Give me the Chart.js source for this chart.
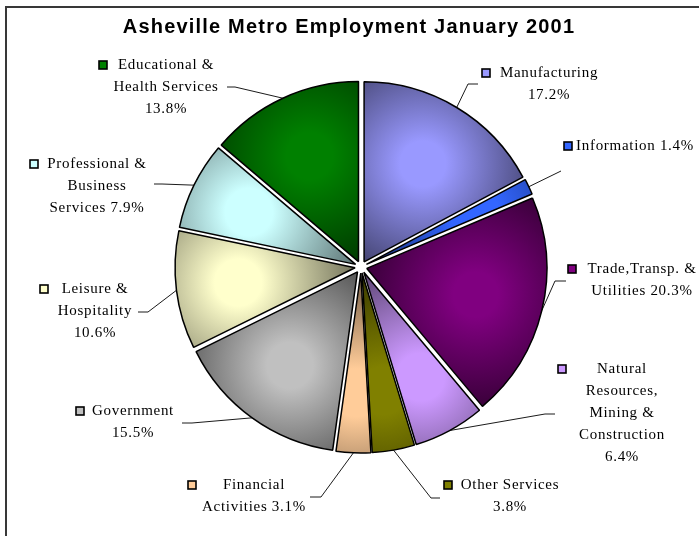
<!DOCTYPE html>
<html>
<head>
<meta charset="utf-8">
<script src="https://cdn.jsdelivr.net/npm/chart.js@4.4.1/dist/chart.umd.min.js"></script>
<style>
  html, body { margin: 0; padding: 0; background: #fff; overflow: hidden; }
  #wrap { width: 699px; height: 536px; }
</style>
</head>
<body>
<div id="wrap"><canvas id="myChart" width="699" height="536"></canvas></div>
<script>
// Employment shares by sector, clockwise from 12 o'clock
const categories = [
  "Manufacturing", "Information", "Trade,Transp. & Utilities",
  "Natural Resources, Mining & Construction", "Other Services",
  "Financial Activities", "Government", "Leisure & Hospitality",
  "Professional & Business Services", "Educational & Health Services"
];
const shares = [17.2, 1.4, 20.3, 6.4, 3.8, 3.1, 15.5, 10.6, 7.9, 13.8];
const sliceColors = [
  "#9999FF", "#3366FF", "#800080", "#CC99FF", "#808000",
  "#FFCC99", "#C0C0C0", "#FFFFCC", "#CCFFFF", "#008000"
];
// how each category name wraps in its label
const labelLines = [
  ["Manufacturing"],
  ["Information"],
  ["Trade,Transp. &", "Utilities"],
  ["Natural", "Resources,", "Mining &", "Construction"],
  ["Other Services"],
  ["Financial", "Activities"],
  ["Government"],
  ["Leisure &", "Hospitality"],
  ["Professional &", "Business", "Services"],
  ["Educational &", "Health Services"]
];

const pieRadius = 180;
const explode = 6;
const lineGap = 22;

// label block placement: centre x, first line y, key x, leader elbow and end
const labelLayout = [
  { x: 549, y: 73,  mx: 486, elbow: [468, 84],  end: [478, 84],  inline: false },
  { x: 635, y: 146, mx: 568, elbow: [561, 171], end: [561, 171], inline: true },
  { x: 642, y: 269, mx: 572, elbow: [555, 281], end: [566, 281], inline: true },
  { x: 622, y: 369, mx: 562, elbow: [545, 414], end: [555, 414], inline: false },
  { x: 510, y: 485, mx: 448, elbow: [431, 498], end: [440, 498], inline: false },
  { x: 254, y: 485, mx: 192, elbow: [321, 497], end: [310, 497], inline: true },
  { x: 133, y: 411, mx: 80,  elbow: [192, 423], end: [182, 423], inline: false },
  { x: 95,  y: 289, mx: 44,  elbow: [148, 312], end: [138, 312], inline: false },
  { x: 97,  y: 164, mx: 34,  elbow: [162, 184], end: [154, 184], inline: true },
  { x: 166, y: 65,  mx: 103, elbow: [235, 87],  end: [227, 87],  inline: false }
];

function shade(hex, f) {
  const n = parseInt(hex.slice(1), 16);
  const r = Math.round(((n >> 16) & 255) * f);
  const g = Math.round(((n >> 8) & 255) * f);
  const b = Math.round((n & 255) * f);
  return `rgb(${r},${g},${b})`;
}

function sliceGeometry(chart, i) {
  const area = chart.chartArea;
  const cx = (area.left + area.right) / 2;
  const cy = (area.top + area.bottom) / 2;
  const total = shares.reduce((a, b) => a + b, 0);
  let before = 0;
  for (let k = 0; k < i; k++) before += shares[k];
  const start = -Math.PI / 2 + before / total * 2 * Math.PI;
  const sweep = shares[i] / total * 2 * Math.PI;
  return { cx, cy, start, sweep, mid: start + sweep / 2 };
}

// shaded fill: bright in the middle of the slice, darker towards its edges
function sliceFill(context) {
  const i = context.dataIndex;
  const chart = context.chart;
  if (context.type !== "data" || !chart.chartArea) return sliceColors[i] || "#ccc";
  const g = sliceGeometry(chart, i);
  const R = pieRadius;
  const d = 4 * R * Math.sin(g.sweep / 2) / (3 * g.sweep);
  const gx = g.cx + Math.cos(g.mid) * (d + explode);
  const gy = g.cy + Math.sin(g.mid) * (d + explode);
  const corner = Math.sqrt(d * d + R * R - 2 * d * R * Math.cos(g.sweep / 2));
  const rad = Math.max(d, corner);
  const grad = chart.ctx.createRadialGradient(gx, gy, 0, gx, gy, rad);
  grad.addColorStop(0, sliceColors[i]);
  grad.addColorStop(0.2, sliceColors[i]);
  grad.addColorStop(1, shade(sliceColors[i], 0.45));
  return grad;
}

const explodePlugin = {
  id: "explodeSlices",
  afterDatasetUpdate(chart) {
    const meta = chart.getDatasetMeta(0);
    meta.data.forEach((arc) => {
      const mid = (arc.startAngle + arc.endAngle) / 2;
      arc.x += Math.cos(mid) * explode;
      arc.y += Math.sin(mid) * explode;
    });
  }
};

const labelPlugin = {
  id: "sliceLabels",
  beforeDraw(chart) {
    const ctx = chart.ctx;
    ctx.save();
    ctx.strokeStyle = "#383838";
    ctx.lineWidth = 2;
    ctx.strokeRect(6, 7, 800, 800);
    ctx.restore();
  },
  afterDatasetsDraw(chart) {
    const ctx = chart.ctx;
    const meta = chart.getDatasetMeta(0);
    ctx.save();

    // title
    ctx.fillStyle = "#000";
    ctx.font = 'bold 20px "Liberation Sans", Arial, sans-serif';
    ctx.textAlign = "center";
    ctx.textBaseline = "middle";
    if ("letterSpacing" in ctx) ctx.letterSpacing = "1.2px";
    ctx.fillText("Asheville Metro Employment January 2001", 349, 27);

    ctx.font = '15px "Liberation Serif", "Times New Roman", serif';
    if ("letterSpacing" in ctx) ctx.letterSpacing = "0.7px";

    meta.data.forEach((arc, i) => {
      const L = labelLayout[i];
      const mid = (arc.startAngle + arc.endAngle) / 2;
      const sx = arc.x + Math.cos(mid) * arc.outerRadius;
      const sy = arc.y + Math.sin(mid) * arc.outerRadius;

      // leader line
      ctx.strokeStyle = "#000";
      ctx.lineWidth = 0.9;
      ctx.beginPath();
      ctx.moveTo(sx, sy);
      ctx.lineTo(L.elbow[0], L.elbow[1]);
      ctx.lineTo(L.end[0], L.end[1]);
      ctx.stroke();

      // text lines, percentage either appended or on its own line
      const pct = shares[i].toFixed(1) + "%";
      const lines = labelLines[i].slice();
      if (L.inline) lines[lines.length - 1] += " " + pct;
      else lines.push(pct);
      ctx.fillStyle = "#000";
      lines.forEach((t, k) => ctx.fillText(t, L.x, L.y + k * lineGap));

      // legend key
      ctx.fillStyle = sliceColors[i];
      ctx.fillRect(L.mx - 4, L.y - 4, 8, 8);
      ctx.strokeStyle = "#000";
      ctx.lineWidth = 1.6;
      ctx.strokeRect(L.mx - 4, L.y - 4, 8, 8);
    });
    ctx.restore();
  }
};

let chartInstance;

const createChart = () => {
  const ctx = document.getElementById("myChart").getContext("2d");
  if (chartInstance) chartInstance.destroy();

  chartInstance = new Chart(ctx, {
    type: "pie",
    data: {
      labels: categories,
      datasets: [{
        data: shares,
        backgroundColor: sliceFill,
        borderColor: "#000",
        borderWidth: 1.5,
        hoverOffset: 0
      }]
    },
    options: {
      responsive: false,
      animation: false,
      events: [],
      radius: pieRadius,
      layout: { padding: { left: 33, right: 10, top: 10, bottom: 12 } },
      plugins: {
        legend: { display: false },
        tooltip: { enabled: false },
        title: { display: false }
      }
    },
    plugins: [explodePlugin, labelPlugin]
  });
};

createChart();
</script>
</body>
</html>
